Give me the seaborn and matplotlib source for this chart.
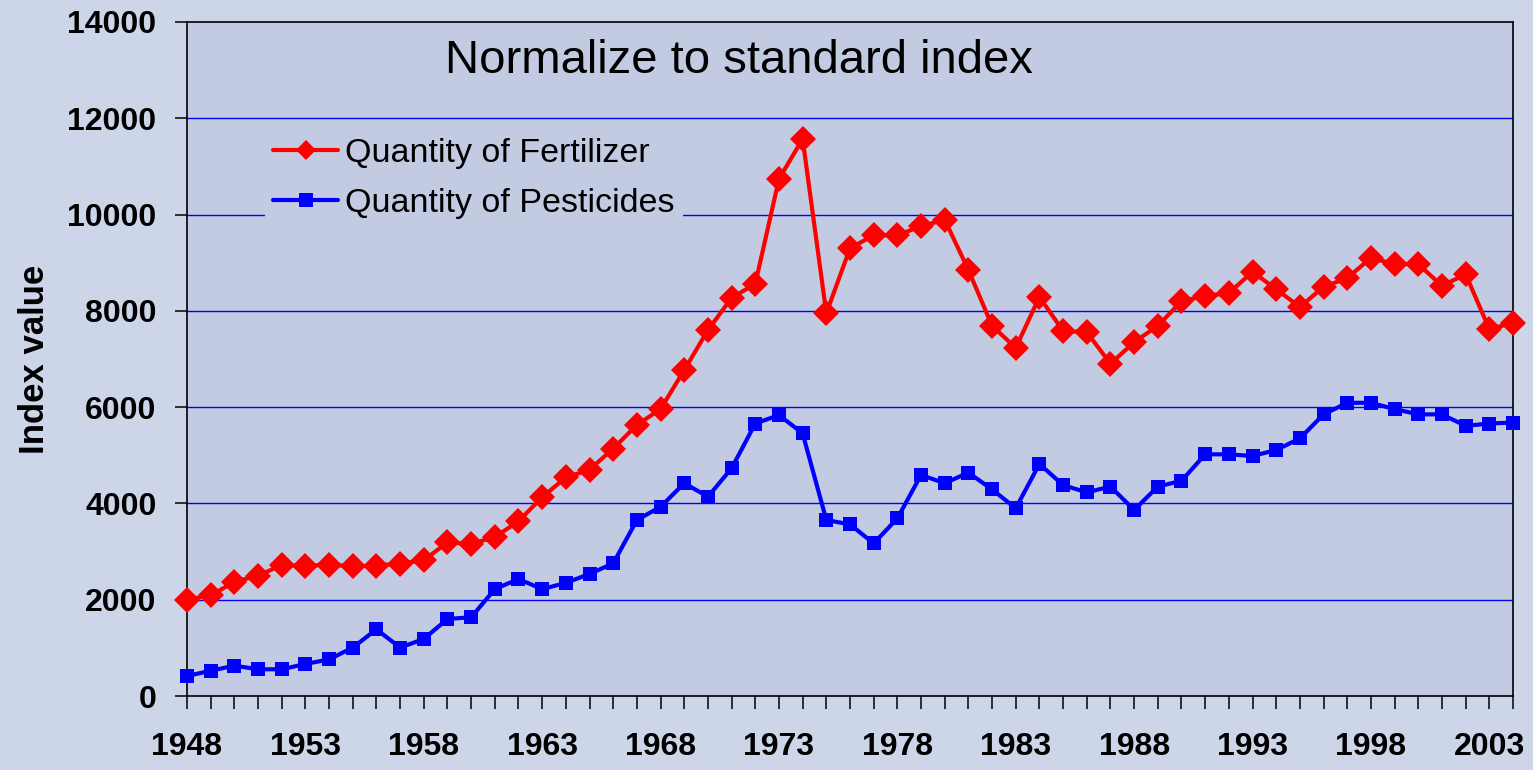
import matplotlib
matplotlib.use("Agg")
import matplotlib.pyplot as plt
from matplotlib.lines import Line2D
from matplotlib.ticker import FixedLocator, MultipleLocator
import seaborn as sns
import pandas as pd

years = list(range(1948, 2005))

fertilizer = [2000, 2090, 2370, 2500, 2720, 2700, 2730, 2690, 2710, 2750,
              2820, 3190, 3160, 3300, 3630, 4130, 4540, 4700, 5140, 5630,
              5960, 6770, 7600, 8270, 8560, 10740, 11570, 7950, 9300, 9570,
              9570, 9760, 9890, 8850, 7690, 7230, 8290, 7580, 7560, 6900,
              7350, 7690, 8200, 8310, 8370, 8810, 8450, 8080, 8500, 8680,
              9100, 8970, 8970, 8520, 8760, 7620, 7750]

pesticides = [415, 525, 630, 555, 555, 665, 760, 1005, 1385, 1005,
              1185, 1600, 1635, 2220, 2430, 2220, 2350, 2535, 2755, 3655,
              3930, 4420, 4140, 4730, 5660, 5835, 5455, 3655, 3565, 3170,
              3690, 4590, 4420, 4640, 4290, 3900, 4820, 4380, 4230, 4350,
              3865, 4350, 4470, 5020, 5020, 4985, 5110, 5350, 5850, 6090,
              6090, 5960, 5850, 5850, 5610, 5660, 5680]

label_fert = "Quantity of Fertilizer"
label_pest = "Quantity of Pesticides"
year_labels = years[::5]
y_ticks = [0, 2000, 4000, 6000, 8000, 10000, 12000, 14000]

df = pd.DataFrame({"year": years, "fert": fertilizer, "pest": pesticides})

sns.set_style("white")
plt.rcParams["font.family"] = ["Liberation Sans", "DejaVu Sans"]
plt.rcParams["text.color"] = "black"
plt.rcParams["axes.labelcolor"] = "black"
plt.rcParams["xtick.color"] = "black"
plt.rcParams["ytick.color"] = "black"

fig = plt.figure(figsize=(15.33, 7.70), dpi=100, facecolor="#cdd6e9")
ax = fig.add_axes([187 / 1533, 1 - 696 / 770, 1326 / 1533, 674 / 770])
ax.set_facecolor("#c3cbe3")

# blue gridlines
for v in y_ticks[1:-1]:
    ax.axhline(v, color="#0000ff", lw=1.0, zorder=1)

sns.lineplot(data=df, x="year", y="fert", ax=ax, color="#ff0000", lw=3,
             marker="D", markersize=13, markeredgewidth=0, zorder=3, clip_on=False)
sns.lineplot(data=df, x="year", y="pest", ax=ax, color="#0000ff", lw=3,
             marker="s", markersize=9.5, markeredgewidth=0, zorder=3, clip_on=False)

ax.set_xlim(1948, 2004)
ax.set_ylim(0, 14000)
ax.yaxis.set_major_locator(FixedLocator(y_ticks))
ax.xaxis.set_major_locator(FixedLocator(year_labels))
ax.xaxis.set_minor_locator(MultipleLocator(1))
ax.set_xticklabels([str(y) for y in year_labels])

for s in ax.spines.values():
    s.set_visible(True)
    s.set_color("black")
    s.set_linewidth(1.2)

ax.tick_params(axis="x", which="both", direction="out", length=9, width=1.1,
               color="black", bottom=True)
ax.tick_params(axis="x", which="major", pad=17, labelsize=23, labelcolor="black")
ax.tick_params(axis="y", direction="out", length=9, width=1.1, color="black",
               pad=13, labelsize=23, left=True, labelcolor="black")
for lab in ax.get_xticklabels() + ax.get_yticklabels():
    lab.set_fontweight("bold")

ax.set_xlabel("")
ax.set_ylabel("Index value", fontsize=25, fontweight="bold", labelpad=12,
              color="black")

ax.text(0.416, 0.942, "Normalize to standard index", transform=ax.transAxes,
        ha="center", va="center", fontsize=34, color="black")

handles = [
    Line2D([], [], color="#ff0000", lw=3, marker="D", markersize=10, markeredgewidth=0),
    Line2D([], [], color="#0000ff", lw=3, marker="s", markersize=9.5, markeredgewidth=0),
]
leg = ax.legend(handles, [label_fert, label_pest], loc="center left",
                bbox_to_anchor=(0.0588, 0.768), borderaxespad=0, borderpad=0.25,
                fontsize=24.5, handlelength=1.9, handletextpad=0.2,
                labelspacing=0.55, frameon=True, fancybox=False)
leg.get_frame().set_facecolor("#c3cbe3")
leg.get_frame().set_edgecolor("none")
leg.get_frame().set_alpha(1)
for t in leg.get_texts():
    t.set_color("black")
leg.set_zorder(5)

fig.savefig("out.png", dpi=100, facecolor=fig.get_facecolor())
